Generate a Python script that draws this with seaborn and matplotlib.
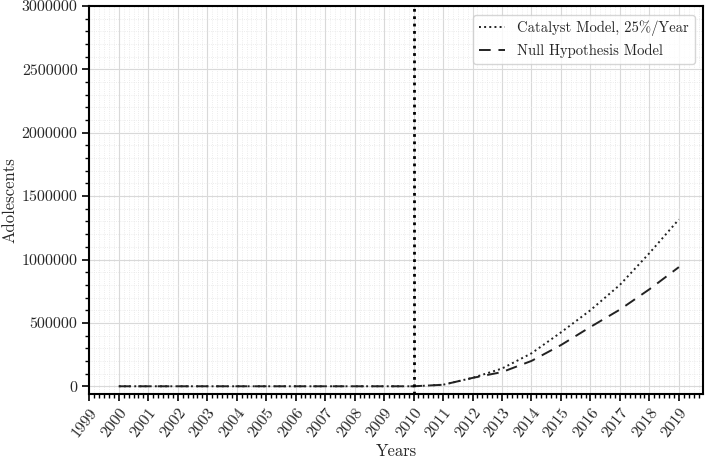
import numpy as np
import pandas as pd
import seaborn as sns
import matplotlib
matplotlib.use("Agg")
import matplotlib.pyplot as plt
from matplotlib.ticker import MultipleLocator

# values
years = list(range(2000, 2020))
catalyst = [0, 0, 0, 0, 0, 0, 0, 0, 0, 0,
            0, 12000, 66000, 140000, 260000, 425000, 600000, 800000, 1050000, 1316000]
null_model = [0, 0, 0, 0, 0, 0, 0, 0, 0, 0,
              0, 12000, 66000, 112000, 200000, 325000, 468000, 605000, 765000, 940000]
year_ticks = list(range(1999, 2020))
intervention_year = 2010

sns.set_theme(style="ticks")
plt.rcParams['font.family'] = ['cmr10', 'DejaVu Serif']
plt.rcParams['axes.formatter.use_mathtext'] = True
plt.rcParams['mathtext.fontset'] = 'cm'

df = pd.DataFrame({'year': years, 'catalyst': catalyst, 'null': null_model})

fig, ax = plt.subplots(figsize=(7.09, 4.58), dpi=100)
sns.lineplot(data=df, x='year', y='catalyst', ax=ax, color='#222222', linestyle=':',
             linewidth=1.4, label='Catalyst Model, 25%/Year')
sns.lineplot(data=df, x='year', y='null', ax=ax, color='#222222', linestyle=(0, (6, 4)),
             linewidth=1.4, label='Null Hypothesis Model')
ax.axvline(intervention_year, color='black', linestyle=':', linewidth=2)

ax.set_xlim(1999, 2019.83)
ax.set_ylim(-60000, 3000000)
ax.set_xticks(year_ticks)
ax.set_xticklabels([str(y) for y in year_ticks], rotation=52, ha='right',
                   rotation_mode='anchor', fontsize=11.8)
ax.xaxis.set_minor_locator(MultipleLocator(1 / 6))
ax.yaxis.set_major_locator(MultipleLocator(500000))
ax.yaxis.set_minor_locator(MultipleLocator(100000))
ax.yaxis.set_major_formatter(plt.FuncFormatter(lambda v, p: f"{int(v)}"))
ax.tick_params(axis='y', labelsize=11.5)
ax.tick_params(which='major', direction='out', length=5, width=1.2, color='black')
ax.tick_params(which='minor', direction='out', length=3, width=1, color='black')

ax.grid(which='major', color='#d9d9d9', linewidth=0.8)
ax.grid(which='minor', color='#e6e6e6', linewidth=0.6, linestyle=':')
for s in ax.spines.values():
    s.set_color('black')
    s.set_linewidth(1.5)

ax.set_xlabel('Years', fontsize=12)
ax.set_ylabel('Adolescents', fontsize=12)
ax.xaxis.set_label_coords(0.5, -0.128)
ax.yaxis.set_label_coords(-0.117, 0.5)
leg = ax.legend(loc='upper right', fontsize=10.5, frameon=True, fancybox=True,
                handlelength=1.8, borderaxespad=0.6)
leg.get_frame().set_edgecolor('#cccccc')

fig.subplots_adjust(left=0.126, right=0.992, top=0.987, bottom=0.14)
fig.savefig('out.png', dpi=100)
